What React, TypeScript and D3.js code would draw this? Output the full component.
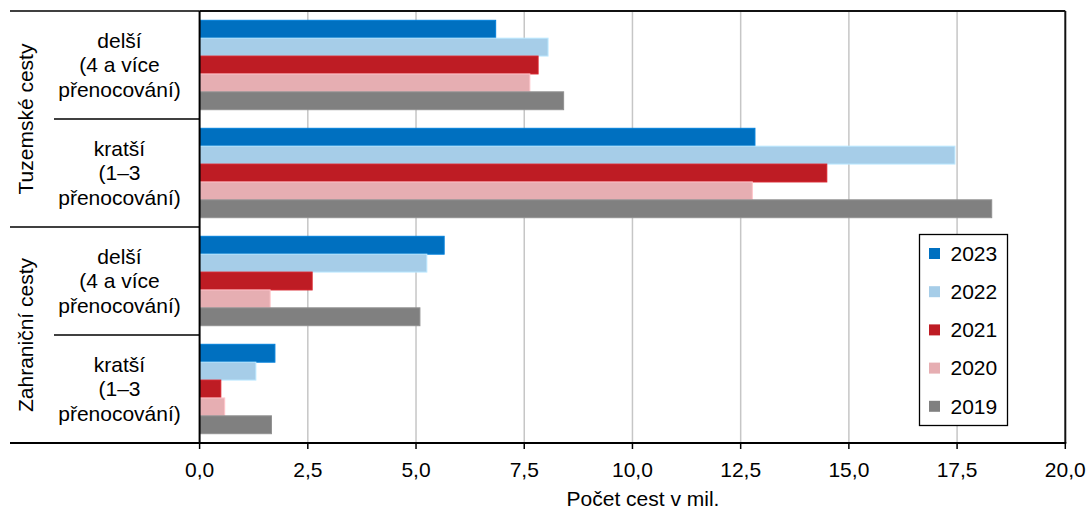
import React from "react";
import * as d3 from "d3";

// categories (top to bottom) and their label lines
const categories = ["tuz-delsi", "tuz-kratsi", "zah-delsi", "zah-kratsi"];
const categoryLabels = [
  ["delší", "(4 a více", "přenocování)"],
  ["kratší", "(1–3", "přenocování)"],
  ["delší", "(4 a více", "přenocování)"],
  ["kratší", "(1–3", "přenocování)"],
];
const groupLabels = ["Tuzemské cesty", "Zahraniční cesty"];

// series (legend order = bar order inside a category)
const years = ["2023", "2022", "2021", "2020", "2019"];
const colors = ["#0070c0", "#a6cde8", "#be1c24", "#e6aeb2", "#808080"];

const v2023 = [6.84, 12.83, 5.65, 1.74];
const v2022 = [8.05, 17.45, 5.25, 1.3];
const v2021 = [7.82, 14.49, 2.6, 0.49];
const v2020 = [7.63, 12.77, 1.63, 0.58];
const v2019 = [8.41, 18.3, 5.09, 1.66];
const seriesValues = [v2023, v2022, v2021, v2020, v2019];

const xTicks = [0, 2.5, 5, 7.5, 10, 12.5, 15, 17.5, 20];
const xTitle = "Počet cest v mil.";

const W = 1088;
const H = 510;
const FONT = "'Liberation Sans', Arial, Helvetica, sans-serif";
const FS = 21;

const App = () => {
  const plotLeft = 199.6;
  const plotRight = 1065.3;
  const plotTop = 11;
  const plotBottom = 443;

  const x = d3.scaleLinear().domain([0, 20]).range([plotLeft, plotRight]);
  const y = d3
    .scaleBand<string>()
    .domain(categories)
    .range([plotTop, plotBottom])
    .padding(0);
  const yInner = d3
    .scaleBand<string>()
    .domain(years)
    .range([0, y.bandwidth()])
    .paddingInner(0)
    .paddingOuter(0.52);

  const fmt = (d: number) => d3.format(".1f")(d).replace(".", ",");

  const legendX = 919.5;
  const legendY = 234.5;
  const legendStep = 38.2;

  return (
    <div style={{ position: "absolute", left: 0, top: 0 }}>
      <svg
        width={W}
        height={H}
        viewBox={`0 0 ${W} ${H}`}
        style={{ display: "block", background: "#fff", fontFamily: FONT }}
      >
        {/* grid lines */}
        {xTicks
          .filter((t) => t > 0 && t < 20)
          .map((t) => (
            <line
              key={`g${t}`}
              x1={x(t)}
              x2={x(t)}
              y1={plotTop}
              y2={plotBottom}
              stroke="#c6c6c6"
              strokeWidth={1.5}
            />
          ))}

        {/* bars */}
        {categories.map((c, ci) =>
          years.map((yr, si) => {
            const v = seriesValues[si][ci];
            const col = colors[si];
            return (
              <rect
                key={`${c}-${yr}`}
                x={x(0)}
                y={(y(c) as number) + (yInner(yr) as number)}
                width={x(v) - x(0)}
                height={yInner.bandwidth()}
                fill={col}
                stroke={d3.color(col)!.brighter(0.35).formatHex()}
                strokeWidth={1}
              />
            );
          })
        )}

        {/* plot frame */}
        <line x1={plotLeft} x2={plotRight} y1={plotTop} y2={plotTop} stroke="#111" strokeWidth={2} />
        <line x1={plotRight} x2={plotRight} y1={plotTop} y2={plotBottom} stroke="#111" strokeWidth={2} />
        <line x1={plotLeft} x2={plotLeft} y1={plotTop} y2={plotBottom} stroke="#000" strokeWidth={2} />
        <line x1={10} x2={plotRight + 1} y1={plotBottom} y2={plotBottom} stroke="#000" strokeWidth={2} />

        {/* x ticks and labels */}
        {xTicks.map((t) => (
          <g key={`t${t}`}>
            <line x1={x(t)} x2={x(t)} y1={plotBottom} y2={plotBottom + 6} stroke="#000" strokeWidth={1.5} />
            <text x={x(t)} y={476.5} textAnchor="middle" fontSize={FS} fill="#000">
              {fmt(t)}
            </text>
          </g>
        ))}
        <text x={643} y={506} textAnchor="middle" fontSize={FS} fill="#000">
          {xTitle}
        </text>

        {/* left category separators */}
        {categories.map((c, ci) => (
          <line
            key={`s${c}`}
            x1={ci % 2 === 0 ? 10 : 54}
            x2={plotLeft}
            y1={y(c) as number}
            y2={y(c) as number}
            stroke="#000"
            strokeWidth={1.5}
          />
        ))}

        {/* category labels */}
        {categories.map((c, ci) => {
          const cy = (y(c) as number) + y.bandwidth() / 2;
          const offs = [-17.5, 7, 31.5];
          return (
            <text key={`l${c}`} x={119.5} textAnchor="middle" fontSize={FS} fill="#000">
              {categoryLabels[ci].map((ln, li) => (
                <tspan key={li} x={119.5} y={cy + offs[li]}>
                  {ln}
                </tspan>
              ))}
            </text>
          );
        })}

        {/* group labels */}
        {groupLabels.map((g, gi) => {
          const cy = (y(categories[gi * 2]) as number) + y.bandwidth();
          return (
            <text
              key={g}
              transform={`translate(33,${cy}) rotate(-90)`}
              textAnchor="middle"
              fontSize={FS}
              fill="#000"
            >
              {g}
            </text>
          );
        })}

        {/* legend */}
        <rect x={legendX} y={legendY} width={88} height={191} fill="#fff" stroke="#000" strokeWidth={1.3} />
        {years.map((yr, si) => {
          const cy = legendY + 19 + si * legendStep;
          return (
            <g key={`lg${yr}`}>
              <rect x={929} y={cy - 5.5} width={11} height={11} fill={colors[si]} />
              <text x={950.5} y={cy + 7.3} fontSize={FS} fill="#000">
                {yr}
              </text>
            </g>
          );
        })}
      </svg>
    </div>
  );
};

export default App;
